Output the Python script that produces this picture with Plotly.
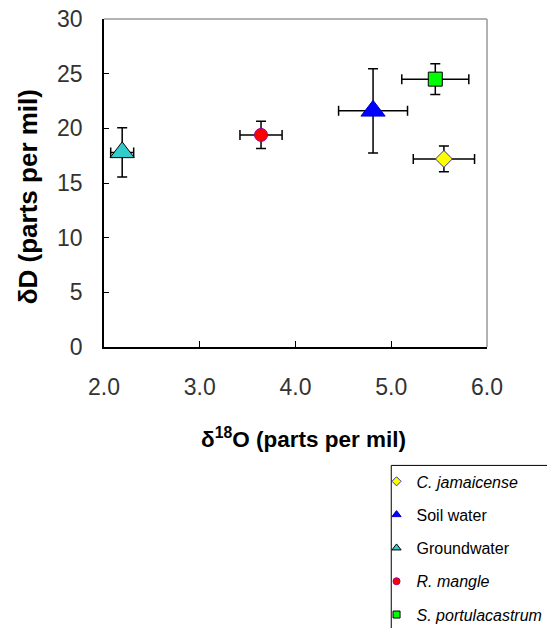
import plotly.graph_objects as go

# ---- data ----
series_names = ["C. jamaicense", "Soil water", "Groundwater", "R. mangle", "S. portulacastrum"]
legend_labels = ["<i>C. jamaicense</i>", "Soil water", "Groundwater", "<i>R. mangle</i>", "<i>S. portulacastrum</i>"]
d18O = [5.55, 4.81, 2.19, 3.64, 5.46]
d18O_err = [0.32, 0.36, 0.12, 0.22, 0.35]
dD = [17.2, 21.6, 17.8, 19.4, 24.5]
dD_err = [1.18, 3.85, 2.25, 1.25, 1.4]
x_ticks = [2.0, 3.0, 4.0, 5.0, 6.0]
y_ticks = [0, 5, 10, 15, 20, 25, 30]

symbols = ["diamond", "triangle-up", "triangle-up", "circle", "square"]
fills = ["#FFFF00", "#0000FF", "#33CCCC", "#FF0000", "#00FF00"]
outlines = ["#3333AA", "#0000CC", "#000000", "#990099", "#000000"]
sizes = [13, 21, 21, 13, 14]
legend_sizes = [7, 8, 8, 7, 7]

FONT = "Liberation Sans, Arial, sans-serif"

fig = go.Figure()
for i, name in enumerate(series_names):
    fig.add_trace(go.Scatter(
        x=[d18O[i]], y=[dD[i]], mode="markers", name=name, showlegend=False,
        marker=dict(symbol=symbols[i], size=sizes[i], color=fills[i],
                    line=dict(color=outlines[i], width=1)),
        error_x=dict(type="data", array=[d18O_err[i]], color="black", thickness=1.5, width=5),
        error_y=dict(type="data", array=[dD_err[i]], color="black", thickness=1.5, width=5),
    ))
for i, name in enumerate(series_names):
    fig.add_trace(go.Scatter(
        x=[None], y=[None], mode="markers", name=legend_labels[i], legendgroup=f"g{i}",
        marker=dict(symbol=symbols[i], size=legend_sizes[i], color=fills[i],
                    line=dict(color=outlines[i], width=1)),
    ))

fig.update_layout(
    width=547, height=620,
    margin=dict(l=96, r=67.5, t=11, b=281.3, autoexpand=False),
    paper_bgcolor="white", plot_bgcolor="white",
    showlegend=True,
    legend=dict(x=0.7116, xanchor="left", y=-0.358, yanchor="top",
                borderwidth=0, bgcolor="rgba(0,0,0,0)",
                font=dict(family=FONT, size=16, color="black"),
                tracegroupgap=9.5, itemwidth=30),
    annotations=[
        dict(text="<b>δD (parts per mil)</b>", xref="paper", yref="paper",
             x=-0.1965, y=0.459, xanchor="center", yanchor="middle",
             textangle=-90, showarrow=False,
             font=dict(family=FONT, size=26, color="black")),
        dict(text="<b>δ<sup>18</sup>O (parts per mil)</b>", xref="paper", yref="paper",
             x=0.521, y=-0.276, xanchor="center", yanchor="middle", showarrow=False,
             font=dict(family=FONT, size=22.5, color="black")),
    ],
)
fig.update_xaxes(range=[2.0, 6.0], tickvals=x_ticks, ticktext=[f"{v:.1f}" for v in x_ticks],
                 showgrid=False, zeroline=False, showline=True, linecolor="black", linewidth=1.5,
                 ticks="inside", ticklen=6, tickcolor="black", ticklabelstandoff=19,
                 automargin=False, ticklabeloverflow="allow",
                 tickfont=dict(family=FONT, size=23, color="#333333"))
fig.update_yaxes(range=[0, 30], tickvals=y_ticks,
                 showgrid=False, zeroline=False, showline=True, linecolor="black", linewidth=1.5,
                 ticks="inside", ticklen=5, tickcolor="black", ticklabelstandoff=15,
                 automargin=False, ticklabeloverflow="allow",
                 tickfont=dict(family=FONT, size=23, color="#333333"))
# gray frame on top and right
fig.add_shape(type="line", xref="paper", yref="paper", x0=0, x1=1, y0=1, y1=1,
              line=dict(color="#999999", width=1.5))
fig.add_shape(type="line", xref="paper", yref="paper", x0=1, x1=1, y0=0, y1=1,
              line=dict(color="#999999", width=1.5))
# legend frame
fig.add_shape(type="rect", xref="paper", yref="paper", x0=0.750, x1=1.1657, y0=-0.926, y1=-0.361,
              line=dict(color="black", width=1), fillcolor="rgba(0,0,0,0)", layer="below")

fig.write_html("out.html")
